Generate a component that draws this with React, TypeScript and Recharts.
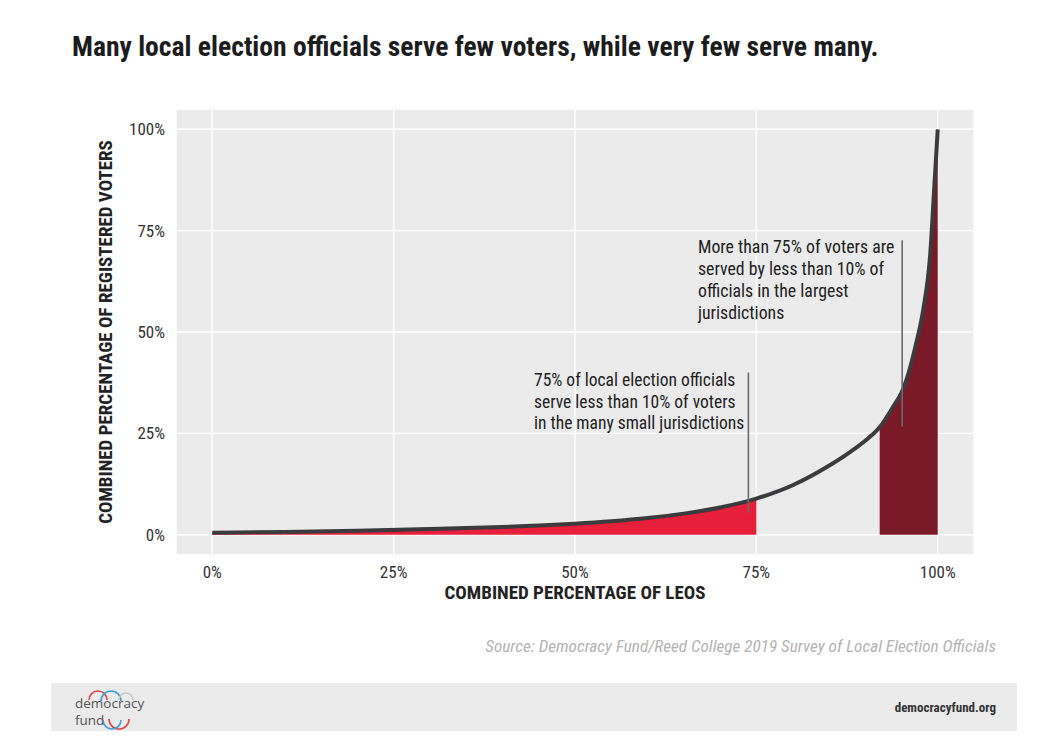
import {
  ComposedChart,
  Area,
  Line,
  XAxis,
  YAxis,
  CartesianGrid,
  ReferenceLine,
} from "recharts";

// combined percentage of LEOs (x) vs combined percentage of registered voters (y)
const leoPct = [0, 10, 20, 30, 40, 45, 50, 55, 60, 65, 70, 75, 80, 85, 88, 90, 92, 94, 95, 96, 97, 98, 99, 99.5, 100];
const voterPct = [0.5, 0.7, 1.0, 1.4, 1.9, 2.25, 2.7, 3.3, 4.1, 5.2, 6.7, 8.9, 12.2, 17, 20.5, 23.2, 26.5, 32, 35, 40, 47, 55.5, 70, 85, 100];

const smallCutoff = 75; // shaded red up to here
const largeCutoff = 92; // shaded dark red from here

const axisTicks = [0, 25, 50, 75, 100];

// annotation leader lines, in data units
const noteLines = [
  { x: 73.9, y1: 40, y2: 5.4 },
  { x: 95.1, y1: 72.6, y2: 26.7 },
];

const NARROW = "'Liberation Sans Narrow', 'Roboto Condensed', 'DejaVu Sans Condensed', Arial, sans-serif";

const data = leoPct.map((x, i) => ({
  leo: x,
  voters: voterPct[i],
  small: x <= smallCutoff ? voterPct[i] : null,
  large: x >= largeCutoff ? voterPct[i] : null,
}));

const tickStyle = { fontFamily: NARROW, fontSize: 17, fill: "#333" };

export default function App() {
  return (
    <div
      style={{
        position: "absolute",
        left: 0,
        top: 0,
        width: 1058,
        height: 750,
        background: "#fff",
        fontFamily: NARROW,
      }}
    >
      <div
        style={{
          position: "absolute",
          left: 72,
          top: 30,
          fontSize: 27.6,
          fontWeight: 700,
          color: "#1c1c1c",
          whiteSpace: "nowrap",
        }}
      >
        Many local election officials serve few voters, while very few serve many.
      </div>

      <div style={{ position: "absolute", left: 0, top: 0 }}>
        <ComposedChart
          width={1058}
          height={750}
          data={data}
          margin={{ top: 109, right: 84, bottom: 165, left: 116 }}
        >
          <CartesianGrid fill="#EBEBEB" stroke="#fff" strokeWidth={1.4} />
          <XAxis
            type="number"
            dataKey="leo"
            domain={[-5, 105]}
            ticks={axisTicks}
            tickFormatter={(v) => `${v}%`}
            axisLine={false}
            tickLine={false}
            tickSize={0}
            tickMargin={11}
            height={30}
            tick={tickStyle}
            allowDataOverflow
          />
          <YAxis
            type="number"
            domain={[-5, 105]}
            ticks={axisTicks}
            tickFormatter={(v) => `${v}%`}
            axisLine={false}
            tickLine={false}
            tickSize={0}
            tickMargin={11}
            width={60}
            tick={tickStyle}
            allowDataOverflow
          />
          <Area
            type="monotone"
            dataKey="small"
            fill="#E81F3B"
            fillOpacity={1}
            stroke="none"
            baseValue={0}
            isAnimationActive={false}
          />
          <Area
            type="monotone"
            dataKey="large"
            fill="#7A1A29"
            fillOpacity={1}
            stroke="none"
            baseValue={0}
            isAnimationActive={false}
          />
          <Line
            type="monotone"
            dataKey="voters"
            stroke="#3b3b3d"
            strokeWidth={4}
            dot={false}
            isAnimationActive={false}
          />
          {noteLines.map((n, i) => (
            <ReferenceLine
              key={i}
              segment={[
                { x: n.x, y: n.y1 },
                { x: n.x, y: n.y2 },
              ]}
              stroke="#6a6a6a"
              strokeWidth={1.6}
              ifOverflow="visible"
            />
          ))}
        </ComposedChart>
      </div>

      <div
        style={{
          position: "absolute",
          left: 534,
          top: 370,
          fontSize: 17.5,
          lineHeight: "21.5px",
          color: "#222",
          whiteSpace: "nowrap",
        }}
      >
        75% of local election officials
        <br />
        serve less than 10% of voters
        <br />
        in the many small jurisdictions
      </div>
      <div
        style={{
          position: "absolute",
          left: 698,
          top: 236,
          fontSize: 17.8,
          lineHeight: "22px",
          color: "#222",
          whiteSpace: "nowrap",
        }}
      >
        More than 75% of voters are
        <br />
        served by less than 10% of
        <br />
        officials in the largest
        <br />
        jurisdictions
      </div>

      <div
        style={{
          position: "absolute",
          left: 375,
          width: 400,
          top: 581,
          textAlign: "center",
          fontSize: 19,
          fontWeight: 700,
          color: "#222",
        }}
      >
        COMBINED PERCENTAGE OF LEOS
      </div>
      <div
        style={{
          position: "absolute",
          left: 105,
          top: 332,
          width: 440,
          marginLeft: -220,
          textAlign: "center",
          transform: "translateY(-50%) rotate(-90deg)",
          fontSize: 19,
          fontWeight: 700,
          color: "#222",
          whiteSpace: "nowrap",
        }}
      >
        COMBINED PERCENTAGE OF REGISTERED VOTERS
      </div>

      <div
        style={{
          position: "absolute",
          right: 62,
          top: 636,
          fontSize: 17.2,
          fontStyle: "italic",
          color: "#b3b3b3",
          whiteSpace: "nowrap",
        }}
      >
        Source: Democracy Fund/Reed College 2019 Survey of Local Election Officials
      </div>

      <div
        style={{
          position: "absolute",
          left: 51,
          top: 683,
          width: 966,
          height: 48,
          background: "#EBEBEB",
        }}
      >
        <svg width={120} height={48} style={{ position: "absolute", left: 0, top: 0 }}>
          <path d="M38 17 A9 9 0 0 1 56 17" fill="none" stroke="#E8413F" strokeWidth={1.6} />
          <path d="M50 18 A10 10 0 0 1 70 18" fill="none" stroke="#3AA0DC" strokeWidth={1.6} />
          <path d="M68 17 A7 7 0 0 1 82 17" fill="none" stroke="#c8c8c8" strokeWidth={1.6} />
          <path d="M58 36 A10 10 0 0 0 78 36" fill="none" stroke="#E8413F" strokeWidth={1.6} />
          <path d="M52 37 A9 9 0 0 0 70 37" fill="none" stroke="#3AA0DC" strokeWidth={1.6} />
          <text x={24} y={25} fontFamily="'Open Sans', sans-serif" fontSize={13.5} fill="#555">
            democracy
          </text>
          <text x={24} y={42} fontFamily="'Open Sans', sans-serif" fontSize={13.5} fill="#555">
            fund
          </text>
        </svg>
        <div
          style={{
            position: "absolute",
            right: 21,
            top: 17,
            fontSize: 13,
            fontWeight: 700,
            color: "#333",
          }}
        >
          democracyfund.org
        </div>
      </div>
    </div>
  );
}
